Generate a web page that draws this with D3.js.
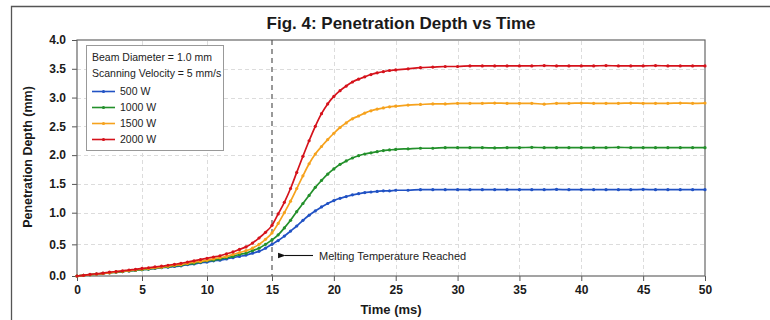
<!DOCTYPE html>
<html>
<head>
<meta charset="utf-8">
<script src="https://cdn.jsdelivr.net/npm/d3@7"></script>
<style>
  html, body { margin: 0; padding: 0; background: #fff; }
  svg { display: block; font-family: "Liberation Sans", Arial, Helvetica, sans-serif; }
</style>
</head>
<body>
<svg id="chart" width="770" height="320"></svg>
<script>
// ---------- data ----------
const times = [
  0,0.5,1,1.5,2,2.5,3,3.5,4,4.5,
  5,5.5,6,6.5,7,7.5,8,8.5,9,9.5,
  10,10.5,11,11.5,12,12.5,13,13.5,14,14.5,
  15,15.5,16,16.5,17,17.5,18,18.5,19,19.5,
  20,20.5,21,21.5,22,22.5,23,23.5,24,24.5,
  25,
  26,27,28,29,30,31,32,33,34,35,36,37,38,39,40,41,42,43,44,45,46,47,48,49,50
];
const depth500 = [
  0,0.01,0.02,0.03,0.04,0.05,0.06,0.07,0.08,0.09,
  0.10,0.11,0.12,0.13,0.14,0.15,0.16,0.18,0.19,0.21,
  0.22,0.24,0.25,0.27,0.29,0.31,0.33,0.36,0.39,0.44,
  0.50,0.56,0.63,0.71,0.79,0.88,0.96,1.03,1.10,1.16,
  1.21,1.25,1.28,1.31,1.33,1.35,1.36,1.37,1.38,1.38,
  1.39,
  1.39,1.40,1.40,1.40,1.40, 1.40,1.40,1.40,1.40,1.40, 1.40,1.40,1.405,1.40,1.40,
  1.40,1.40,1.40,1.40,1.405, 1.40,1.40,1.40,1.40,1.40
];
const depth1000 = [
  0,0.01,0.02,0.03,0.04,0.05,0.06,0.07,0.08,0.09,
  0.10,0.11,0.125,0.135,0.145,0.16,0.17,0.19,0.20,0.22,
  0.24,0.25,0.27,0.29,0.31,0.34,0.36,0.40,0.44,0.50,
  0.57,0.65,0.76,0.88,1.02,1.16,1.30,1.44,1.56,1.67,
  1.76,1.84,1.90,1.95,1.99,2.02,2.04,2.06,2.08,2.09,
  2.10,
  2.11,2.12,2.12,2.13,2.13, 2.13,2.13,2.125,2.13,2.13, 2.135,2.13,2.13,2.13,2.13,
  2.13,2.13,2.135,2.13,2.13, 2.13,2.13,2.13,2.13,2.13
];
const depth1500 = [
  0,0.01,0.02,0.03,0.04,0.05,0.065,0.075,0.085,0.095,
  0.11,0.12,0.13,0.14,0.155,0.17,0.18,0.20,0.22,0.23,
  0.25,0.27,0.29,0.31,0.34,0.37,0.40,0.44,0.50,0.58,
  0.68,0.83,1.00,1.20,1.42,1.64,1.85,2.02,2.15,2.27,
  2.38,2.48,2.56,2.63,2.68,2.73,2.77,2.80,2.82,2.84,
  2.85,
  2.87,2.88,2.89,2.89,2.90, 2.90,2.90,2.905,2.90,2.90, 2.90,2.885,2.90,2.90,2.905,
  2.90,2.90,2.90,2.905,2.90, 2.90,2.90,2.905,2.90,2.905
];
const depth2000 = [
  0,0.01,0.025,0.035,0.045,0.06,0.07,0.08,0.095,0.105,
  0.12,0.13,0.145,0.155,0.17,0.185,0.20,0.22,0.24,0.26,
  0.28,0.30,0.32,0.35,0.38,0.42,0.46,0.52,0.60,0.69,
  0.80,0.98,1.18,1.42,1.70,1.98,2.25,2.50,2.72,2.89,
  3.02,3.12,3.20,3.27,3.32,3.36,3.40,3.43,3.45,3.47,
  3.48,
  3.50,3.52,3.53,3.54,3.54, 3.55,3.55,3.55,3.55,3.55, 3.55,3.555,3.55,3.55,3.55,
  3.55,3.555,3.55,3.55,3.55, 3.555,3.55,3.55,3.55,3.55
];
const seriesNames = ["500 W", "1000 W", "1500 W", "2000 W"];
const seriesValues = [depth500, depth1000, depth1500, depth2000];
const xTicks = [0,5,10,15,20,25,30,35,40,45,50];
const yTicks = [0,0.5,1,1.5,2,2.5,3,3.5,4];
const meltTime = 15;
const titleText = "Fig. 4: Penetration Depth vs Time";
const xLabel = "Time (ms)";
const yLabel = "Penetration Depth (mm)";
const legendHeader = ["Beam Diameter = 1.0 mm", "Scanning Velocity = 5 mm/s"];
const annotationText = "Melting Temperature Reached";

// ---------- styles ----------
const colors = ["#2152c4", "#23902b", "#f6a21d", "#d5121b"];

const svg = d3.select("#chart");

// scales (reference axis is slightly non-uniform, so piecewise linear)
const x = d3.scaleLinear().domain([0, 15, 50]).range([77, 272, 705]);
const y = d3.scaleLinear().domain([0, 1, 4]).range([276, 212.7, 40]);

// outer frame
svg.append("path")
  .attr("d", "M11.5,320 L11.5,6.5 L770,6.5")
  .attr("fill", "none").attr("stroke", "#555").attr("stroke-width", 1.3);

// title
svg.append("text")
  .attr("x", 401).attr("y", 29)
  .attr("text-anchor", "middle")
  .attr("font-size", 17).attr("font-weight", "bold").attr("fill", "#1a1a1a")
  .text(titleText);

// grid
const grid = svg.append("g");
grid.selectAll("line.h").data(yTicks.filter(d => d > 0 && d < 4)).join("line")
  .attr("x1", x(0)).attr("x2", x(50))
  .attr("y1", d => Math.round(y(d)) + 0.5).attr("y2", d => Math.round(y(d)) + 0.5)
  .attr("stroke", "#dcdcdc").attr("stroke-dasharray", "4,3");
grid.selectAll("line.v").data(xTicks.filter(d => d > 0 && d < 50 && d !== meltTime)).join("line")
  .attr("y1", y(0)).attr("y2", y(4))
  .attr("x1", d => Math.round(x(d)) + 0.5).attr("x2", d => Math.round(x(d)) + 0.5)
  .attr("stroke", "#dcdcdc").attr("stroke-dasharray", "4,3");

// axes
const xAxis = svg.append("g").attr("transform", `translate(0,${y(0)})`)
  .call(d3.axisBottom(x).tickValues(xTicks).tickFormat(d3.format("d")).tickSize(5).tickPadding(4));
const yAxis = svg.append("g").attr("transform", `translate(${x(0)},0)`)
  .call(d3.axisLeft(y).tickValues(yTicks).tickFormat(d3.format(".1f")).tickSize(5).tickPadding(6));
[xAxis, yAxis].forEach(a => {
  a.select(".domain").remove();
  a.selectAll("line").attr("stroke", "#555");
  a.selectAll("text").attr("font-size", 12).attr("font-weight", "bold").attr("fill", "#1a1a1a")
    .attr("font-family", "Liberation Sans, Arial, sans-serif");
});

// plot box
svg.append("rect")
  .attr("x", x(0)).attr("y", y(4))
  .attr("width", x(50) - x(0)).attr("height", y(0) - y(4))
  .attr("fill", "none").attr("stroke", "#666").attr("stroke-width", 1.2);

// melting line
svg.append("line")
  .attr("x1", x(meltTime)).attr("x2", x(meltTime))
  .attr("y1", y(4)).attr("y2", y(0))
  .attr("stroke", "#555").attr("stroke-width", 1.2).attr("stroke-dasharray", "5,4");

// series
const line = d3.line().x((d, i) => x(times[i])).y(d => y(d)).curve(d3.curveMonotoneX);
seriesValues.forEach((vals, k) => {
  const g = svg.append("g");
  g.append("path").datum(vals)
    .attr("d", line)
    .attr("fill", "none").attr("stroke", colors[k]).attr("stroke-width", 1.7);
  g.selectAll("circle").data(vals).join("circle")
    .attr("cx", (d, i) => x(times[i])).attr("cy", d => y(d))
    .attr("r", 1.6).attr("fill", colors[k]);
});

// legend
const lg = svg.append("g");
lg.append("rect").attr("x", 86.5).attr("y", 45.5).attr("width", 137).attr("height", 105)
  .attr("fill", "#fff").attr("stroke", "#999").attr("stroke-width", 1);
legendHeader.forEach((t, i) => {
  lg.append("text").attr("x", 92).attr("y", 61 + i * 16)
    .attr("font-size", 10.5).attr("fill", "#222").text(t);
});
seriesNames.forEach((n, k) => {
  const cy = 91.5 + k * 16;
  lg.append("line").attr("x1", 92).attr("x2", 115).attr("y1", cy).attr("y2", cy)
    .attr("stroke", colors[k]).attr("stroke-width", 1.6);
  lg.append("circle").attr("cx", 103.5).attr("cy", cy).attr("r", 1.6).attr("fill", colors[k]);
  lg.append("text").attr("x", 120).attr("y", cy + 3.8)
    .attr("font-size", 10.5).attr("fill", "#222").text(n);
});

// annotation
svg.append("defs").append("marker")
  .attr("id", "arrow").attr("viewBox", "0 0 10 10").attr("refX", 1).attr("refY", 5)
  .attr("markerWidth", 7).attr("markerHeight", 7).attr("orient", "auto-start-reverse")
  .append("path").attr("d", "M10,1.5 L0,5 L10,8.5 Z").attr("fill", "#111");
svg.append("line")
  .attr("x1", 313).attr("x2", 285).attr("y1", 255.5).attr("y2", 255.5)
  .attr("stroke", "#111").attr("stroke-width", 1.1).attr("marker-end", "url(#arrow)");
svg.append("text").attr("x", 319).attr("y", 259.5)
  .attr("font-size", 11).attr("fill", "#222").text(annotationText);

// axis labels
svg.append("text")
  .attr("x", 391).attr("y", 314)
  .attr("text-anchor", "middle").attr("font-size", 13).attr("font-weight", "bold").attr("fill", "#1a1a1a")
  .text(xLabel);
svg.append("text")
  .attr("transform", "translate(32,157) rotate(-90)")
  .attr("text-anchor", "middle").attr("font-size", 12.5).attr("font-weight", "bold").attr("fill", "#1a1a1a")
  .text(yLabel);
</script>
</body>
</html>
